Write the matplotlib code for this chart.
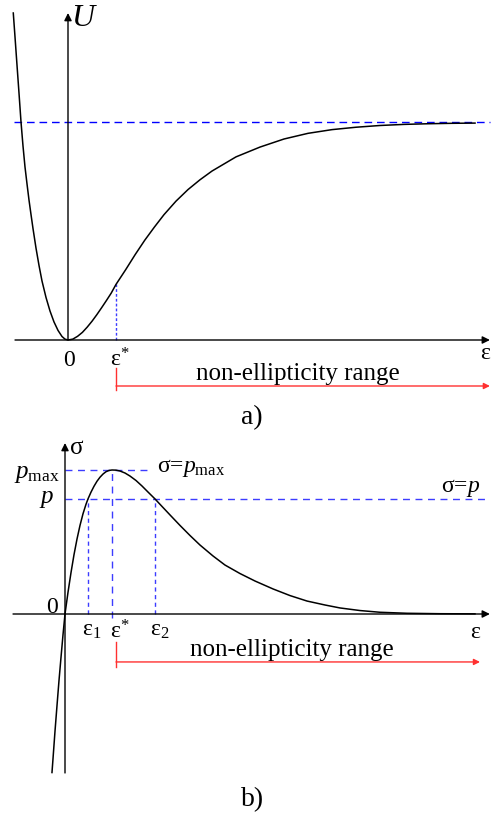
import matplotlib
matplotlib.use("Agg")
import matplotlib.pyplot as plt

plt.rcParams['font.family'] = ['Liberation Serif', 'DejaVu Serif']
plt.rcParams['mathtext.fontset'] = 'custom'
plt.rcParams['mathtext.rm'] = 'Liberation Serif'
plt.rcParams['mathtext.it'] = 'Liberation Serif:italic'

# panel a: potential U(eps), eps in units of eps*, U in units of the asymptote
eps_u = [-1.140, -1.104, -1.0625, -1.021, -0.979, -0.9375, -0.896, -0.854, -0.8125,
         -0.771, -0.729, -0.667, -0.604, -0.542, -0.458, -0.375, -0.292, -0.208,
         -0.125, -0.0625, 0.0,
         0.1, 0.2, 0.3, 0.4, 0.5, 0.6, 0.7, 0.8, 0.9, 1.0, 1.2, 1.4, 1.6, 1.8,
         2.0, 2.25, 2.5, 2.75, 3.0, 3.5, 4.0, 4.5, 5.0, 5.5, 6.0, 6.5, 7.0, 7.5,
         8.0, 8.48]
U = [1.500, 1.390, 1.261, 1.133, 1.0, 0.890, 0.794, 0.716, 0.642,
     0.576, 0.511, 0.422, 0.342, 0.271, 0.195, 0.133, 0.083, 0.044,
     0.016, 0.004, 0.0,
     0.004, 0.017, 0.035, 0.059, 0.086, 0.116, 0.148, 0.181, 0.215, 0.255,
     0.322, 0.392, 0.458, 0.518, 0.575, 0.637, 0.690, 0.735, 0.775, 0.840,
     0.885, 0.922, 0.948, 0.965, 0.976, 0.984, 0.989, 0.992, 0.994, 0.995]
U_inf = 1.0
eps_star_a = 1.0
U_star = 0.257

# panel b: stress sigma(eps), sigma in units of p_max
eps_s = [-0.277, -0.255, -0.213, -0.170, -0.128, -0.085, -0.043, 0.0,
         0.064, 0.128, 0.191, 0.255, 0.319, 0.383, 0.447, 0.489,
         0.553, 0.617, 0.681, 0.745, 0.809, 0.872, 0.936, 1.0, 1.085, 1.170,
         1.277, 1.383, 1.511, 1.638, 1.766, 1.915, 2.064, 2.234, 2.447, 2.660,
         2.872, 3.149, 3.404, 3.723, 4.043, 4.426, 4.787, 5.149, 5.532, 5.851,
         6.277, 6.702, 7.277, 7.979, 8.723]
sigma = [-1.101, -1.004, -0.815, -0.635, -0.463, -0.301, -0.146, 0.0,
         0.151, 0.288, 0.411, 0.520, 0.615, 0.696, 0.762, 0.799,
         0.846, 0.887, 0.922, 0.950, 0.972, 0.988, 0.997, 1.0, 0.999, 0.993,
         0.979, 0.958, 0.927, 0.889, 0.847, 0.799, 0.747, 0.688, 0.615, 0.545,
         0.479, 0.403, 0.340, 0.281, 0.229, 0.174, 0.128, 0.090, 0.0625, 0.042,
         0.024, 0.012, 0.005, 0.002, 0.001]
p_max = 1.0
p = 0.799
eps1, eps_star, eps2 = 0.489, 1.0, 1.915
range_start = 1.085

fig = plt.figure(figsize=(4.91, 8.21), dpi=100)
H = 821.0
split = 430.0

ax1 = fig.add_axes([0, 1 - split / H, 1, split / H])
ax2 = fig.add_axes([0, 0, 1, (H - split) / H])
for ax in (ax1, ax2):
    ax.set_axis_off()

ax1.set_xlim(-68 / 48, (491 - 68) / 48)
ax1.set_ylim((340 - split) / 218, 340 / 218)
ax2.set_xlim(-65 / 47, (491 - 65) / 47)
ax2.set_ylim((614 - H) / 144, (614 - split) / 144)

def arrow(ax, x0, y0, x1, y1, color='black', ms=11):
    ax.annotate('', xy=(x1, y1), xytext=(x0, y0),
                arrowprops=dict(arrowstyle='-|>', color=color, lw=1.0,
                                shrinkA=0, shrinkB=0, mutation_scale=ms))

blue_a = '#0000ff'
blue_b = '#3c3cff'
red = '#ff3030'

# ---- a) ----
arrow(ax1, -1.104, 0, 8.79, 0)
arrow(ax1, 0, 0, 0, 1.5)
ax1.plot([-1.125, 8.79], [U_inf, U_inf], color=blue_a, lw=1.0, dashes=(5.5, 3.5))
ax1.plot([eps_star_a, eps_star_a], [0, U_star], color=blue_b, lw=1.0, dashes=(2, 1.5))
ax1.plot(eps_u, U, color='black', lw=1.1)
ax1.plot([1.0, 1.0], [-0.128, -0.229], color=red, lw=1.0)
arrow(ax1, 1.0, -0.211, 8.79, -0.211, color=red, ms=9)

ax1.text(0.333, 1.477, '$U$', fontsize=23, ha='center', va='center')
ax1.text(0.02, -0.092, '0', fontsize=17, ha='center', va='center')
ax1.text(1.07, -0.092, 'ε$^{*}$', fontsize=17, ha='center', va='center')
ax1.text(8.69, -0.06, 'ε', fontsize=17, ha='center', va='center')
ax1.text(4.78, -0.156, 'non-ellipticity range', fontsize=18, ha='center', va='center')
ax1.text(3.83, -0.358, 'a)', fontsize=20, ha='center', va='center')

# ---- b) ----
arrow(ax2, -1.106, 0, 9.04, 0)
arrow(ax2, 0, -1.104, 0, 1.1875)
ax2.plot([0, 1.809], [p_max, p_max], color=blue_b, lw=1.0, dashes=(5, 4))
ax2.plot([0, 9.04], [p, p], color=blue_b, lw=1.0, dashes=(5, 4))
ax2.plot([eps1, eps1], [0, p], color=blue_b, lw=1.0, dashes=(3, 2.5))
ax2.plot([eps_star, eps_star], [-0.03, p_max], color=blue_b, lw=1.0, dashes=(5, 4))
ax2.plot([eps2, eps2], [0, p], color=blue_b, lw=1.0, dashes=(3, 2.5))
ax2.plot(eps_s, sigma, color='black', lw=1.1)
ax2.plot([range_start, range_start], [-0.194, -0.368], color=red, lw=1.0)
arrow(ax2, range_start, -0.333, 8.83, -0.333, color=red, ms=9)

ax2.text(0.255, 1.153, 'σ', fontsize=18, ha='center', va='center')
ax2.text(-0.106, 0.972, '$p_{\\mathrm{max}}$', fontsize=18, ha='right', va='center')
ax2.text(-0.234, 0.771, '$p$', fontsize=18, ha='right', va='baseline')
ax2.text(-0.149, 0.007, '0', fontsize=17, ha='right', va='baseline')
ax2.text(0.564, -0.042, 'ε$_1$', fontsize=17, ha='center', va='top')
ax2.text(1.17, -0.042, 'ε$^{*}$', fontsize=17, ha='center', va='top')
ax2.text(2.02, -0.042, 'ε$_2$', fontsize=17, ha='center', va='top')
ax2.text(8.72, -0.125, 'ε', fontsize=17, ha='center', va='center')
ax2.text(1.957, 0.986, 'σ=$p_{\\mathrm{max}}$', fontsize=17, ha='left', va='baseline')
ax2.text(8.83, 0.847, 'σ=$p$', fontsize=17, ha='right', va='baseline')
ax2.text(4.82, -0.25, 'non-ellipticity range', fontsize=18, ha='center', va='center')
ax2.text(3.98, -1.29, 'b)', fontsize=20, ha='center', va='center')

fig.savefig('out.png', dpi=100)
